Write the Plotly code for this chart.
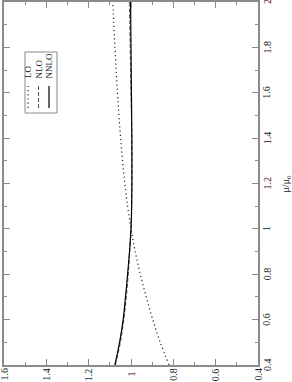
import plotly.graph_objects as go

# ---- data ----
mu = [0.4, 0.5, 0.6, 0.7, 0.8, 0.9, 1.0, 1.1, 1.2, 1.3, 1.4, 1.5, 1.6, 1.7, 1.8, 1.9, 2.0]
lo = [0.82, 0.862, 0.897, 0.928, 0.956, 0.98, 1.0, 1.016, 1.029, 1.04, 1.049, 1.057,
      1.064, 1.07, 1.076, 1.081, 1.086]
nlo = [1.074, 1.05, 1.034, 1.022, 1.013, 1.006, 1.0, 0.997, 0.995, 0.995, 0.996, 0.998,
       1.0, 1.002, 1.004, 1.006, 1.008]
nnlo = [1.076, 1.054, 1.037, 1.026, 1.016, 1.007, 1.0, 0.997, 0.996, 0.996, 0.996, 0.997,
        0.998, 0.999, 1.0, 1.001, 1.002]

ratio_ticks = [1.6, 1.4, 1.2, 1.0, 0.8, 0.6, 0.4]
ratio_labels = ["1.6", "1.4", "1.2", "1", "0.8", "0.6", "0.4"]
mu_ticks = [0.4, 0.6, 0.8, 1.0, 1.2, 1.4, 1.6, 1.8, 2.0]
mu_labels = ["0.4", "0.6", "0.8", "1", "1.2", "1.4", "1.6", "1.8", "2"]
legend_names = ["LO", "NLO", "NNLO"]

W, H = 292, 382
L, R, T, B = 4, 258, 2, 365
FONT = "Liberation Serif, Times New Roman, serif"
FRAME = "#8a8a8a"
TXT = "#222222"

styles = [
    dict(color="#222222", width=1.2, dash="1.2px,3px"),
    dict(color="#555555", width=1, dash="4px,2px"),
    dict(color="black", width=1.2, dash="solid"),
]

fig = go.Figure()
for name, vals, st in zip(legend_names, [lo, nlo, nnlo], styles):
    fig.add_trace(go.Scatter(x=vals, y=mu, mode="lines", name=name,
                             line=dict(shape="spline", **st), showlegend=False))


def px(xp):
    return (xp - L) / (R - L)


def py(yp):
    return 1 - (yp - T) / (B - T)


axis_common = dict(
    showgrid=False, zeroline=False, showline=True, linecolor=FRAME, linewidth=1.5,
    mirror="ticks", ticks="inside", ticklen=6, tickcolor=FRAME, tickwidth=1,
    showticklabels=False, automargin=False,
)

fig.update_layout(
    width=W, height=H,
    margin=dict(l=L, r=W - R, t=T, b=H - B),
    paper_bgcolor="white", plot_bgcolor="white",
    xaxis=dict(range=[1.6, 0.4], tickvals=ratio_ticks,
               minor=dict(dtick=0.1, ticklen=3, ticks="inside", tickcolor=FRAME),
               **axis_common),
    yaxis=dict(range=[0.4, 2.0], side="right", tickvals=mu_ticks,
               minor=dict(dtick=0.1, ticklen=3, ticks="inside", tickcolor=FRAME),
               **axis_common),
    showlegend=False,
)

tick_font = dict(family=FONT, size=10, color=TXT)
# tick labels (rotated, as in the reference), centre-anchored
for v, t in zip(ratio_ticks, ratio_labels):
    fig.add_annotation(xref="x", yref="paper", x=v, y=py(374.5), text=t, showarrow=False,
                       textangle=-90, xanchor="center", yanchor="middle", font=tick_font,
                       borderpad=0)
for v, t in zip(mu_ticks, mu_labels):
    fig.add_annotation(xref="paper", yref="y", x=px(267), y=v, text=t, showarrow=False,
                       textangle=-90, xanchor="center", yanchor="middle", font=tick_font,
                       borderpad=0)

# axis title
fig.add_annotation(xref="paper", yref="paper", x=px(286), y=0.5, text="μ/μ<sub>0</sub>",
                   showarrow=False, textangle=-90, xanchor="center", yanchor="middle",
                   font=dict(family=FONT, size=10, color=TXT), borderpad=0)

# legend box
fig.add_shape(type="rect", xref="paper", yref="paper",
              x0=px(25), x1=px(57), y0=py(113), y1=py(52),
              line=dict(color=FRAME, width=1), fillcolor="white", layer="above")
cols = [28, 38.5, 49]
centres = [72, 69, 66.5]
for name, st, cx, cy in zip(legend_names, styles, cols, centres):
    fig.add_shape(type="line", xref="paper", yref="paper",
                  x0=px(cx), x1=px(cx), y0=py(108), y1=py(86),
                  line=dict(color=st["color"], width=st["width"], dash=st["dash"]),
                  layer="above")
    fig.add_annotation(xref="paper", yref="paper", x=px(cx), y=py(cy), text=name,
                       showarrow=False, textangle=-90, xanchor="center", yanchor="middle",
                       font=dict(family=FONT, size=9, color=TXT), borderpad=0)

fig.write_html("out.html",
               config={"displayModeBar": False},
               post_script="document.body.style.margin='0px';"
                           "document.body.style.overflow='hidden';")
